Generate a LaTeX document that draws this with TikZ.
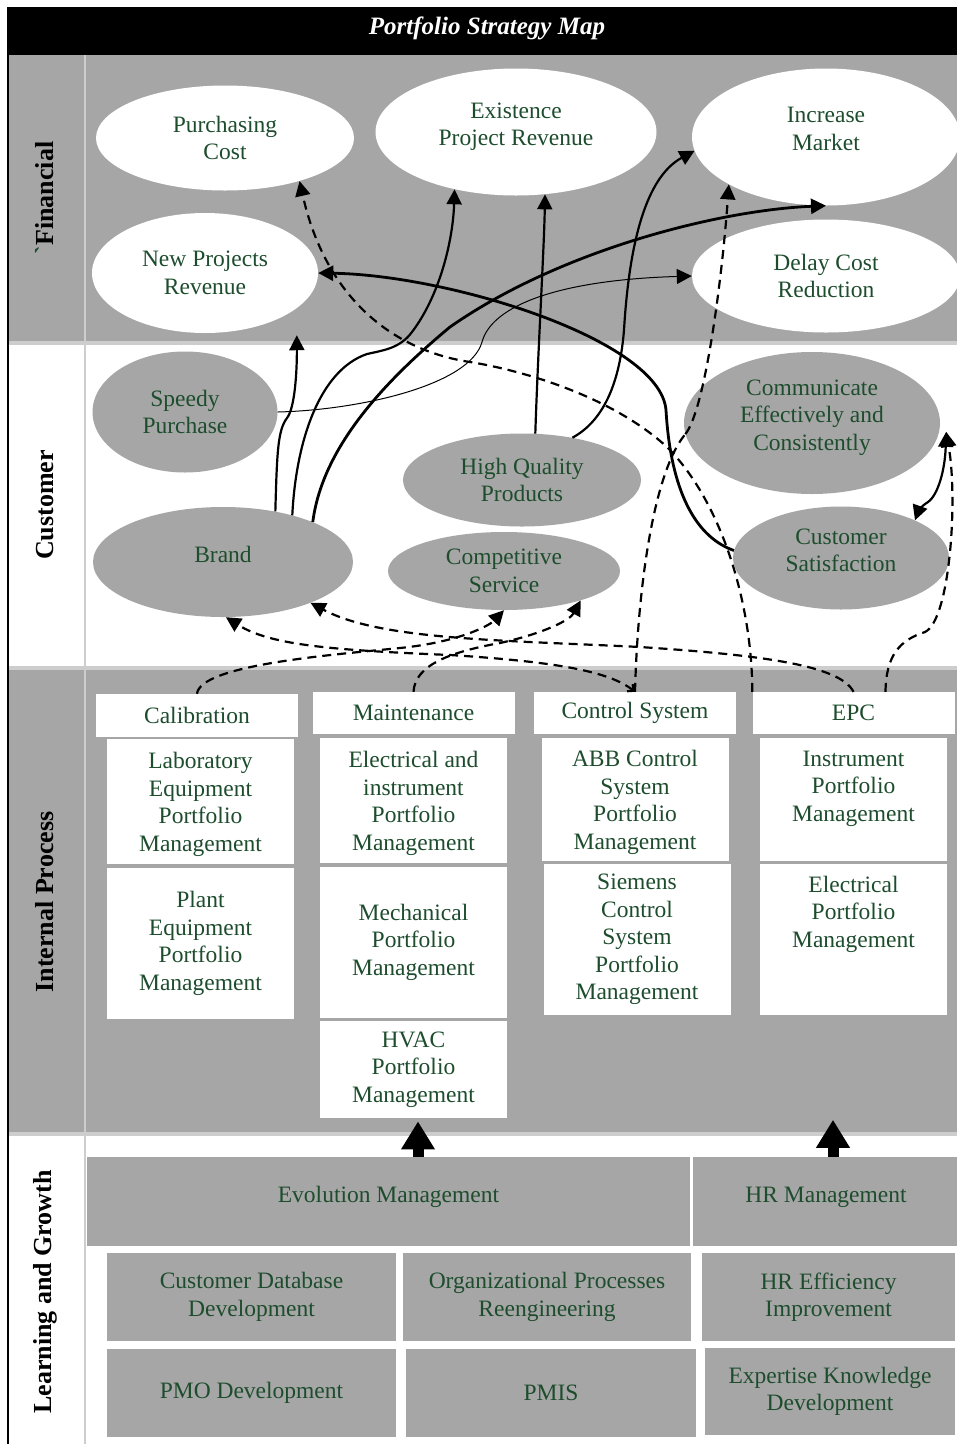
\documentclass[tikz,border=0pt]{standalone}
\usepackage{fontspec}
\setmainfont{Liberation Serif}
\usetikzlibrary{arrows.meta,positioning,shapes.geometric}
\definecolor{bandgray}{RGB}{166,166,166}
\definecolor{rulegray}{RGB}{205,205,205}
\definecolor{txtgreen}{RGB}{30,77,46}

\begin{document}
\begin{tikzpicture}[
  x=1pt, y=-1pt,
  node distance=3pt,
  >={Triangle[length=15pt,width=15pt]},
  txt/.style={font=\fontsize{23.5}{27.5}\selectfont, text=txtgreen, align=center},
  fin/.style={ellipse, fill=white, inner sep=0pt, txt},
  cust/.style={ellipse, fill=bandgray, inner sep=0pt, txt},
  lift/.style={text depth=16pt},
  drop/.style={text depth=-2pt},
  head/.style={rectangle, fill=white, inner sep=0pt, minimum width=202pt, minimum height=42pt, txt},
  pbox/.style={rectangle, fill=white, inner sep=0pt, minimum width=187pt, txt},
  lbox/.style={rectangle, fill=bandgray, inner sep=0pt, minimum height=88pt, txt},
  band/.style={font=\fontsize{26}{30}\selectfont\bfseries, rotate=90},
  flow/.style={->, line width=2.2pt},
  twoway/.style={<->, line width=2.2pt},
  dflow/.style={flow, dash pattern=on 9pt off 6pt},
  block/.style={-{Triangle[length=28pt,width=32pt]}, line width=11pt}
]
\path[use as bounding box, clip] (0,0) rectangle (957,1444);
\fill[white] (0,0) rectangle (957,1444);
\fill[black] (7,7) rectangle (957,55);
\fill[bandgray] (8,55) rectangle (957,343);
\fill[bandgray] (8,667) rectangle (957,1135);
\draw[rulegray, line width=4pt] (8,343) -- (957,343);
\draw[rulegray, line width=4pt] (8,668) -- (957,668);
\draw[rulegray, line width=4pt] (8,1134) -- (957,1134);
\draw[rulegray, line width=2pt] (85,55) -- (85,1444);
\draw[black, line width=2pt] (8,55) -- (8,1444);

\node[font=\fontsize{25}{30}\selectfont\bfseries\itshape, text=white] (title) at (487,28) {Portfolio Strategy Map};

\node[band] (lfin) at (45,198) {{\color{txtgreen}\textasciigrave}Financial};
\node[band] (lcust) at (45,505) {Customer};
\node[band] (lint) at (45,902) {Internal Process};
\node[band] (llg) at (45,1292) {Learning and Growth};

\node[fin, minimum width=258pt, minimum height=105pt] (purch) at (225,138) {Purchasing\\Cost};
\node[fin, lift, minimum width=281pt, minimum height=127pt] (exist) at (516,132) {Existence\\Project Revenue};
\node[fin, lift, minimum width=268pt, minimum height=137pt] (incmkt) at (826,137) {Increase\\Market};
\node[fin, minimum width=226pt, minimum height=120pt] (newproj) at (205,273) {New Projects\\Revenue};
\node[fin, minimum width=268pt, minimum height=113pt] (delay) at (826,276) {Delay Cost\\Reduction};

\node[cust, minimum width=185pt, minimum height=121pt] (speedy) at (185,412) {Speedy\\Purchase};
\node[cust, lift, minimum width=260pt, minimum height=110pt] (brand) at (223,562) {Brand};
\node[cust, minimum width=238pt, minimum height=93pt] (hiqual) at (522,480) {High Quality\\Products};
\node[cust, minimum width=232pt, minimum height=78pt] (compserv) at (504,571) {Competitive\\Service};
\node[cust, lift, minimum width=256pt, minimum height=142pt] (commun) at (812,423) {Communicate\\Effectively and\\Consistently};
\node[cust, lift, minimum width=216pt, minimum height=103pt] (custsat) at (841,558) {Customer\\Satisfaction};

\node[head, minimum height=43pt] (calib) at (197,715.5) {Calibration};
\node[head] (maint) at (413.5,713) {Maintenance};
\node[head] (ctrl) at (635,713) {Control System};
\node[head] (epc) at (853.5,713) {EPC};

\node[pbox, drop, minimum height=125pt, below=2pt of calib, xshift=3.5pt] (lab) {Laboratory\\Equipment\\Portfolio\\Management};
\node[pbox, minimum height=151pt, below=3pt of lab] (plant) {Plant\\Equipment\\Portfolio\\Management};
\node[pbox, drop, minimum height=125pt, below=4pt of maint] (eimaint) {Electrical and\\instrument\\Portfolio\\Management};
\node[pbox, minimum height=151pt, below=3pt of eimaint] (mech) {Mechanical\\Portfolio\\Management};
\node[pbox, minimum height=97pt, below=3pt of mech] (hvac) {HVAC\\Portfolio\\Management};
\node[pbox, drop, minimum height=123pt, below=4pt of ctrl] (abb) {ABB Control\\System\\Portfolio\\Management};
\node[pbox, minimum height=151pt, below=2pt of abb, xshift=2pt] (siemens) {Siemens\\Control\\System\\Portfolio\\Management};
\node[pbox, minimum height=123pt, below=4pt of epc] (instr) {Instrument\\Portfolio\\Management\\\mbox{}};
\node[pbox, minimum height=151pt, below=2pt of instr] (elecp) {Electrical\\Portfolio\\Management\\\mbox{}\\\mbox{}};

\node[lbox, text depth=14pt, minimum width=603pt, minimum height=89pt] (evol) at (388.5,1201.5) {Evolution Management};
\node[lbox, text depth=14pt, minimum width=266pt, minimum height=89pt] (hrm) at (826,1201.5) {HR Management};
\node[lbox, minimum width=289pt] (custdb) at (251.5,1297) {Customer Database\\Development};
\node[lbox, minimum width=288pt] (orgproc) at (547,1297) {Organizational Processes\\Reengineering};
\node[lbox, minimum width=253pt] (hreff) at (828.5,1297) {HR Efficiency\\Improvement};
\node[lbox, minimum width=289pt] (pmo) at (251.5,1393) {PMO Development};
\node[lbox, minimum width=290pt] (pmis) at (551,1393) {PMIS};
\node[lbox, minimum width=250pt, minimum height=87pt] (expert) at (830,1391.5) {Expertise Knowledge\\Development};

\coordinate (evolup) at (evol.north -| hvac.south);
\draw[block] ([xshift=4.5pt]evolup) -- ([xshift=4.5pt,yshift=-3pt]hvac.south);
\draw[block] ([xshift=7pt]hrm.north) -- ++(0,-37);

\draw[flow] (brand.44) .. controls (277,450) and (278,430) .. (287,418) .. controls (295,408) and (297,370) .. ([yshift=-27pt]newproj.-21);
\draw[flow] (brand.34) .. controls (296,440) and (320,370) .. (367,354) .. controls (385,350) and (400,348) .. (412,332) .. controls (440,295) and (453,240) .. (exist.223);
\draw[flow, line width=2.8pt] (brand.24) .. controls (322,450) and (380,385) .. (450,327) .. controls (560,250) and (720,210) .. (incmkt.south);
\draw[flow, line width=1pt] (speedy.east) .. controls (360,410) and (470,385) .. (482,342) .. controls (492,305) and (560,280) .. (delay.west);
\draw[flow] (hiqual.74) .. controls (538,350) and (544,250) .. (exist.-65);
\draw[flow] (hiqual.40) .. controls (605,420) and (620,380) .. (624,330) .. controls (630,230) and (650,175) .. (incmkt.186);
\draw[flow, line width=2.8pt] (custsat.176) .. controls (690,535) and (670,480) .. (666,410) .. controls (660,340) and (450,275) .. (newproj.east);
\draw[twoway] ([xshift=7pt]commun.-4) .. controls (945,470) and (938,495) .. (928,502) .. controls (920,507) and (918,512) .. (custsat.27);

\draw[dflow] (calib.north) .. controls (200,665) and (330,655) .. (400,648) .. controls (460,642) and (490,625) .. (compserv.south);
\draw[dflow] (maint.north) .. controls (415,665) and (450,652) .. (500,643) .. controls (545,633) and (570,620) .. (compserv.-21);
\draw[dflow, {Straight Barb[length=5pt,width=9pt]}->] (ctrl.north) .. controls (610,672) and (560,662) .. (450,655) .. controls (330,650) and (270,645) .. (brand.-87);
\draw[dflow] (epc.north) .. controls (840,665) and (760,655) .. (640,647) .. controls (500,640) and (380,640) .. (brand.-25);
\draw[dflow, -] (ctrl.north) .. controls (638,580) and (655,470) .. (commun.185);
\draw[dflow] (commun.185) .. controls (705,410) and (722,280) .. (incmkt.206);
\draw[dflow] (epc.north west) .. controls (752,600) and (720,500) .. (667,447) .. controls (610,395) and (520,370) .. (470,362) .. controls (390,350) and (325,295) .. (purch.-30);
\draw[dflow] ([xshift=32pt]epc.north) .. controls (886,655) and (900,640) .. (925,632) .. controls (950,620) and (958,500) .. ([xshift=7pt]commun.-4);
\end{tikzpicture}
\end{document}
